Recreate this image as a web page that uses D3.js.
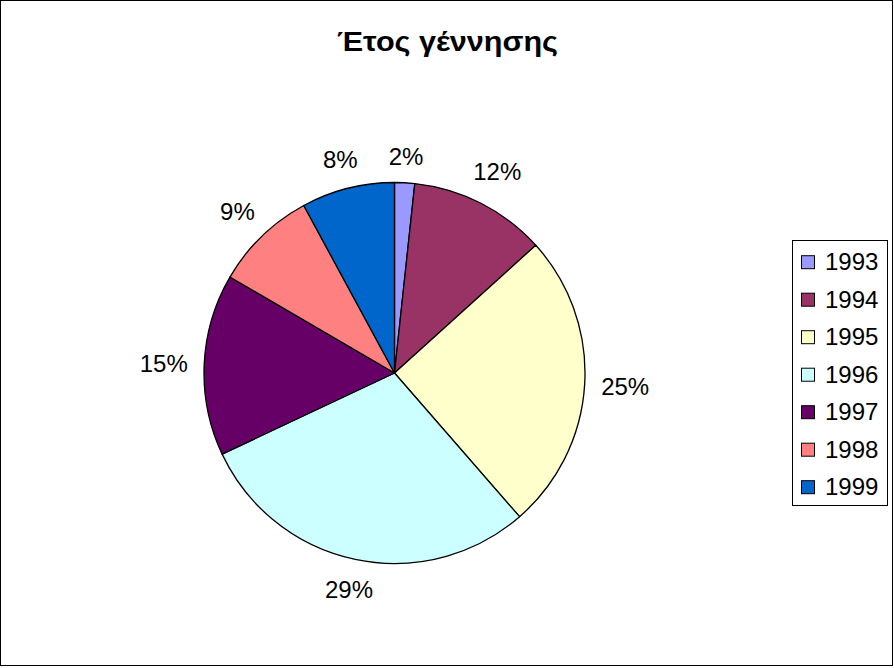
<!DOCTYPE html>
<html>
<head>
<meta charset="utf-8">
<script src="https://cdn.jsdelivr.net/npm/d3@7"></script>
<style>
  html, body { margin: 0; padding: 0; background: #fff; }
  svg { display: block; }
  text { font-family: "Liberation Sans", Arial, sans-serif; fill: #000; }
</style>
</head>
<body>
<svg id="chart" width="894" height="668"></svg>
<script>
const title = "Έτος γέννησης";
const categories = ["1993", "1994", "1995", "1996", "1997", "1998", "1999"];
const values = [1.7, 11.6, 25.3, 29.4, 15.4, 8.7, 7.9];
const colors = ["#9999FF", "#993366", "#FFFFCC", "#CCFFFF", "#660066", "#FF8080", "#0066CC"];

const svg = d3.select("#chart");
const W = 894, H = 668;

// outer frame
svg.append("rect")
  .attr("x", 0.5).attr("y", 0.5)
  .attr("width", 892).attr("height", 665)
  .attr("fill", "#fff").attr("stroke", "#000").attr("stroke-width", 1);

// title
svg.append("text")
  .attr("x", 447.5).attr("y", 51)
  .attr("text-anchor", "middle")
  .attr("font-size", 28).attr("font-weight", "bold")
  .attr("textLength", 221).attr("lengthAdjust", "spacingAndGlyphs")
  .text(title);

const cx = 394.5, cy = 373, R = 190.5;
const data = categories.map((c, i) => ({ cat: c, value: values[i], color: colors[i] }));
const total = d3.sum(values);

const pie = d3.pie().value(d => d.value).sort(null);
const arcs = pie(data);
const arc = d3.arc().innerRadius(0).outerRadius(R);

const g = svg.append("g").attr("transform", `translate(${cx},${cy})`);
g.selectAll("path.slice")
  .data(arcs)
  .join("path")
  .attr("class", "slice")
  .attr("d", arc)
  .attr("fill", d => d.data.color)
  .attr("stroke", "#000")
  .attr("stroke-width", 1.3)
  .attr("stroke-linejoin", "round");

// percentage labels outside
const fs = 24, gap = 16;
const labels = g.selectAll("text.lbl")
  .data(arcs)
  .join("text")
  .attr("class", "lbl")
  .attr("font-size", fs)
  .attr("text-anchor", "middle")
  .text(d => Math.round(d.data.value / total * 100) + "%");

labels.each(function(d) {
  const a = (d.startAngle + d.endAngle) / 2;
  const w = this.getComputedTextLength();
  const h = 20;
  const s = Math.sin(a), c = Math.cos(a);
  const dist = R + gap + Math.abs(s) * w / 2 + Math.abs(c) * h / 2;
  const x = s * dist, y = -c * dist;
  d3.select(this).attr("x", x).attr("y", y + fs * 0.36);
});

// legend
const lx = 792.5, ly = 240.5, lw = 95, lh = 265;
svg.append("rect")
  .attr("x", lx).attr("y", ly).attr("width", lw).attr("height", lh)
  .attr("fill", "#fff").attr("stroke", "#000").attr("stroke-width", 1);

const ly0 = 262.2, lstep = 37.5;
const leg = svg.selectAll("g.leg")
  .data(data)
  .join("g")
  .attr("class", "leg")
  .attr("transform", (d, i) => `translate(0,${ly0 + i * lstep})`);
leg.append("rect")
  .attr("x", 801.5).attr("y", -6.5)
  .attr("width", 13).attr("height", 13)
  .attr("fill", d => d.color).attr("stroke", "#000").attr("stroke-width", 1);
leg.append("text")
  .attr("x", 825).attr("y", 8)
  .attr("font-size", 24)
  .text(d => d.cat);
</script>
</body>
</html>
